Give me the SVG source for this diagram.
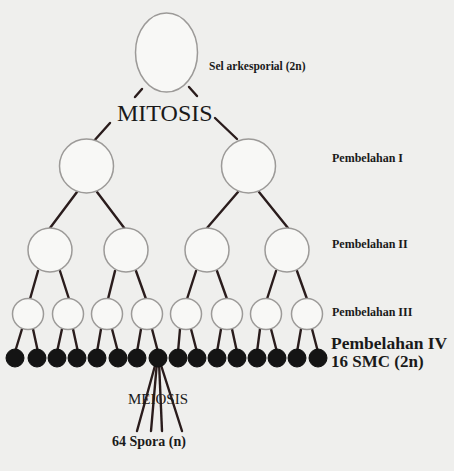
<svg xmlns="http://www.w3.org/2000/svg" width="454" height="471" viewBox="0 0 454 471">
<style>
.bg{fill:#efefed}
.cell{fill:#f8f8f6;stroke:#9c9a98;stroke-width:1.5}
.smc{fill:#141414;stroke:#101010;stroke-width:1}
.ln{stroke:#2a1c1c;stroke-width:2.4;stroke-linecap:round;fill:none}
.lbl{font-family:"Liberation Serif","Times New Roman",serif;font-weight:bold;fill:#1a1a1a}
.big{font-family:"Liberation Serif","Times New Roman",serif;fill:#1a1a1a}
</style>
<rect class="bg" x="0" y="0" width="454" height="471"/>
<g id="connectors">
<line class="ln" x1="142" y1="89" x2="135" y2="97"/>
<line class="ln" x1="189" y1="87" x2="197" y2="96"/>
<line class="ln" x1="110" y1="123" x2="93" y2="142"/>
<line class="ln" x1="215" y1="118" x2="237" y2="139"/>
<line class="ln" x1="77" y1="192" x2="50" y2="228"/>
<line class="ln" x1="97" y1="192" x2="125" y2="229"/>
<line class="ln" x1="238" y1="192" x2="207" y2="228"/>
<line class="ln" x1="259" y1="192" x2="288" y2="228"/>
<line class="ln" x1="38" y1="271" x2="30" y2="299"/>
<line class="ln" x1="60" y1="271" x2="69" y2="299"/>
<line class="ln" x1="115" y1="271" x2="108" y2="299"/>
<line class="ln" x1="136" y1="271" x2="146" y2="299"/>
<line class="ln" x1="196" y1="271" x2="187" y2="299"/>
<line class="ln" x1="217" y1="271" x2="227" y2="299"/>
<line class="ln" x1="276" y1="271" x2="267" y2="299"/>
<line class="ln" x1="297" y1="271" x2="307" y2="299"/>
<line class="ln" x1="22" y1="329" x2="15" y2="352"/>
<line class="ln" x1="33" y1="329" x2="38" y2="352"/>
<line class="ln" x1="62" y1="329" x2="57" y2="352"/>
<line class="ln" x1="73" y1="329" x2="78" y2="352"/>
<line class="ln" x1="101" y1="329" x2="97" y2="352"/>
<line class="ln" x1="112" y1="329" x2="118" y2="352"/>
<line class="ln" x1="141" y1="329" x2="137" y2="352"/>
<line class="ln" x1="152" y1="329" x2="158" y2="352"/>
<line class="ln" x1="180" y1="329" x2="178" y2="352"/>
<line class="ln" x1="191" y1="329" x2="197" y2="352"/>
<line class="ln" x1="221" y1="329" x2="217" y2="352"/>
<line class="ln" x1="232" y1="329" x2="237" y2="352"/>
<line class="ln" x1="260" y1="329" x2="257" y2="352"/>
<line class="ln" x1="271" y1="329" x2="277" y2="352"/>
<line class="ln" x1="301" y1="329" x2="297" y2="352"/>
<line class="ln" x1="312" y1="329" x2="318" y2="352"/>
<line class="ln" x1="156" y1="362" x2="137" y2="431"/>
<line class="ln" x1="157" y1="362" x2="151" y2="431"/>
<line class="ln" x1="159" y1="362" x2="162" y2="431"/>
<line class="ln" x1="160" y1="362" x2="182" y2="431"/>
</g>
<g id="arkesporial"><ellipse class="cell" cx="166.5" cy="52.5" rx="31" ry="39.5"/></g>
<g id="p1-1"><circle class="cell" cx="86.5" cy="166" r="27"/></g>
<g id="p1-2"><circle class="cell" cx="248.5" cy="166" r="27"/></g>
<g id="p2-1"><circle class="cell" cx="50" cy="250" r="22"/></g>
<g id="p2-2"><circle class="cell" cx="126" cy="250" r="22"/></g>
<g id="p2-3"><circle class="cell" cx="207" cy="250" r="22"/></g>
<g id="p2-4"><circle class="cell" cx="287" cy="250" r="22"/></g>
<g id="p3-1"><circle class="cell" cx="28" cy="314" r="15.5"/></g>
<g id="p3-2"><circle class="cell" cx="68" cy="314" r="15.5"/></g>
<g id="p3-3"><circle class="cell" cx="107" cy="314" r="15.5"/></g>
<g id="p3-4"><circle class="cell" cx="147" cy="314" r="15.5"/></g>
<g id="p3-5"><circle class="cell" cx="186" cy="314" r="15.5"/></g>
<g id="p3-6"><circle class="cell" cx="227" cy="314" r="15.5"/></g>
<g id="p3-7"><circle class="cell" cx="266" cy="314" r="15.5"/></g>
<g id="p3-8"><circle class="cell" cx="307" cy="314" r="15.5"/></g>
<g id="smc">
<circle class="smc" cx="15" cy="358" r="9"/>
<circle class="smc" cx="37" cy="358" r="9"/>
<circle class="smc" cx="57" cy="358" r="9"/>
<circle class="smc" cx="77" cy="358" r="9"/>
<circle class="smc" cx="97" cy="358" r="9"/>
<circle class="smc" cx="118" cy="358" r="9"/>
<circle class="smc" cx="137" cy="358" r="9"/>
<circle class="smc" cx="158" cy="358" r="9"/>
<circle class="smc" cx="178" cy="358" r="9"/>
<circle class="smc" cx="197" cy="358" r="9"/>
<circle class="smc" cx="217" cy="358" r="9"/>
<circle class="smc" cx="237" cy="358" r="9"/>
<circle class="smc" cx="257" cy="358" r="9"/>
<circle class="smc" cx="277" cy="358" r="9"/>
<circle class="smc" cx="297" cy="358" r="9"/>
<circle class="smc" cx="318" cy="358" r="9"/>
</g>
<g id="labels">
<text class="lbl" x="209" y="70" font-size="11.5">Sel arkesporial (2n)</text>
<text class="big" x="117" y="121" font-size="24">MITOSIS</text>
<text class="lbl" x="332" y="162" font-size="12">Pembelahan I</text>
<text class="lbl" x="332" y="248" font-size="12">Pembelahan II</text>
<text class="lbl" x="332" y="316" font-size="12">Pembelahan III</text>
<text class="lbl" x="331" y="349" font-size="17.5">Pembelahan IV</text>
<text class="lbl" x="331" y="367" font-size="17">16 SMC (2n)</text>
<text class="big" x="158" y="404" font-size="15" text-anchor="middle">MEIOSIS</text>
<text class="lbl" x="149" y="446" font-size="14" text-anchor="middle">64 Spora (n)</text>
</g>
</svg>
